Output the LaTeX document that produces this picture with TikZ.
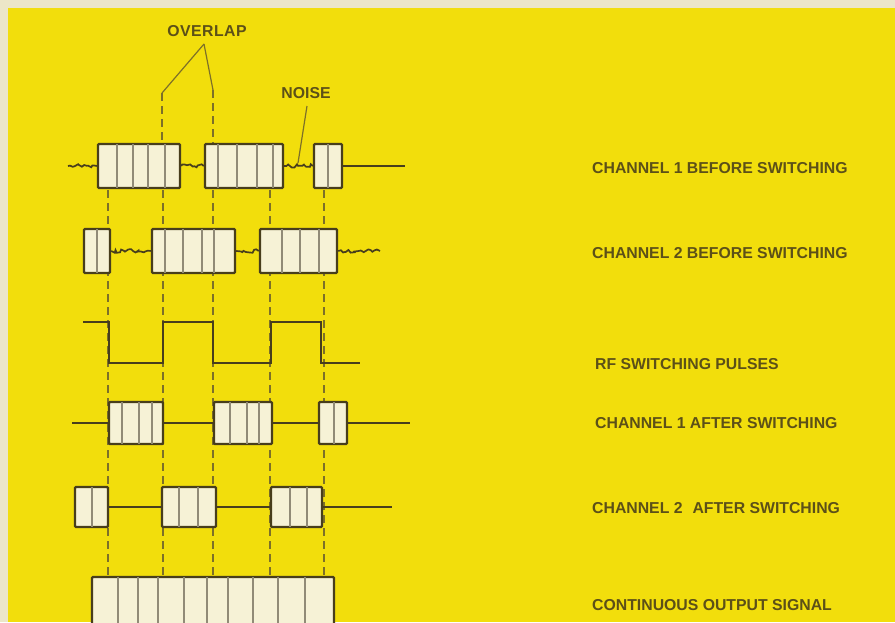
\documentclass[tikz,border=0pt]{standalone}
\usepackage{fontspec}
\setmainfont{Liberation Sans}
\usetikzlibrary{fit,decorations.pathmorphing}
\definecolor{bgyel}{RGB}{242,222,12}
\definecolor{paper}{RGB}{236,230,200}
\definecolor{ink}{RGB}{72,62,28}
\definecolor{txt}{RGB}{92,80,24}
\definecolor{cream}{RGB}{246,242,214}
\definecolor{guide}{RGB}{125,112,40}
\tikzset{
  sbox/.style={draw=ink, line width=2.4pt, fill=cream, inner sep=0pt, rounded corners=1pt},
  divline/.style={draw=ink!60, line width=1.3pt},
  sig/.style={draw=ink, line width=2pt},
  noisy/.style={draw=ink, line width=1.7pt, decorate, decoration={random steps, segment length=2.2pt, amplitude=1.8pt}},
  guideline/.style={draw=guide, line width=1.1pt, dash pattern=on 8pt off 5pt},
  pointer/.style={draw=guide, line width=1.2pt},
  lbl/.style={text=txt, font=\bfseries\fontsize{15.8}{18}\selectfont, inner sep=0pt, anchor=west},
}
\newcommand\sigbox[6]{%
  \coordinate (#1-nw) at (#2,#4);
  \coordinate (#1-se) at (#3,#5);
  \node[sbox, fit=(#1-nw)(#1-se)] (#1) {};
  \foreach \d in {#6} {\draw[divline] (\d,#4) -- (\d,#5);}
}
\begin{document}
\begin{tikzpicture}[x=1pt,y=-1pt]
\pgfmathsetseed{7}
\useasboundingbox (0,0) rectangle (895,622);
\fill[paper] (0,0) rectangle (895,622);
\fill[bgyel] (8,8) rectangle (895,622);

% guide lines
\foreach \x in {108,163,213,270,324} {\draw[guideline] (\x,190) -- (\x,576);}
\draw[guideline] (162,93) -- (162,144);
\draw[guideline] (213,90) -- (213,144);

% overlap and noise labels
\node[lbl, anchor=center] (ov) at (207,31) {O\kern0.5ptV\kern0.5ptE\kern0.5ptR\kern0.5ptL\kern0.5ptA\kern0.5ptP};
\coordinate (ovp) at (204,44);
\coordinate (ovl) at (162,93);
\coordinate (ovr) at (213,90);
\draw[pointer] (ovp) -- (ovl);
\draw[pointer] (ovp) -- (ovr);
\node[lbl, anchor=center] (nz) at (306,93) {NOISE};
\coordinate (nzp) at (307,106);
\coordinate (nzt) at (298,163);
\draw[pointer] (nzp) -- (nzt);

% channel 1 before switching
\sigbox{a1}{98}{180}{144}{188}{117,133,148,165}
\sigbox{a2}{205}{283}{144}{188}{218,237,257,273}
\sigbox{a3}{314}{342}{144}{188}{328}
\coordinate (a0) at (68,166);
\coordinate (a4) at (405,166);
\draw[noisy] (a0) -- (a1.west);
\draw[noisy] (a1.east) -- (a2.west);
\draw[noisy] (a2.east) -- (a3.west);
\draw[sig] (a3.east) -- (a4);

% channel 2 before switching
\sigbox{b1}{84}{110}{229}{273}{97}
\sigbox{b2}{152}{235}{229}{273}{165,183,202,214}
\sigbox{b3}{260}{337}{229}{273}{282,300,319}
\coordinate (b4) at (380,251);
\draw[noisy] (b1.east) -- (b2.west);
\draw[noisy] (b2.east) -- (b3.west);
\draw[noisy] (b3.east) -- (b4);

% RF switching pulses
\draw[sig, line join=miter] (83,322) -- (109,322) -- (109,363) -- (163,363) -- (163,322)
  -- (213,322) -- (213,363) -- (271,363) -- (271,322) -- (321,322) -- (321,363) -- (360,363);

% channel 1 after switching
\sigbox{c1}{109}{163}{402}{444}{122,139,152}
\sigbox{c2}{214}{272}{402}{444}{230,247,259}
\sigbox{c3}{319}{347}{402}{444}{334}
\coordinate (c0) at (72,423);
\coordinate (c4) at (410,423);
\draw[sig] (c0) -- (c1.west);
\draw[sig] (c1.east) -- (c2.west);
\draw[sig] (c2.east) -- (c3.west);
\draw[sig] (c3.east) -- (c4);

% channel 2 after switching
\sigbox{d1}{75}{108}{487}{527}{92}
\sigbox{d2}{162}{216}{487}{527}{179,198}
\sigbox{d3}{271}{322}{487}{527}{290,307}
\coordinate (d4) at (392,507);
\draw[sig] (d1.east) -- (d2.west);
\draw[sig] (d2.east) -- (d3.west);
\draw[sig] (d3.east) -- (d4);

% continuous output signal
\begin{scope}
\clip (0,0) rectangle (895,622);
\sigbox{e1}{92}{334}{577}{640}{118,138,158,184,207,228,253,278,305}
\end{scope}

% right-hand labels
\node[lbl] (l1) at (592,168) {CHANNEL 1 BEFORE SWITCHING};
\node[lbl] (l2) at (592,253) {CHANNEL 2 BEFORE SWITCHING};
\node[lbl] (l3) at (595,364) {RF SWITCHING PULSES};
\node[lbl] (l4) at (595,423) {CHANNEL 1 AFTER SWITCHING};
\node[lbl] (l5) at (592,508) {CHANNEL 2\hspace{0.35em} AFTER SWITCHING};
\node[lbl] (l6) at (592,605) {CONTINUOUS OUTPUT SIGNAL};
\end{tikzpicture}
\end{document}
